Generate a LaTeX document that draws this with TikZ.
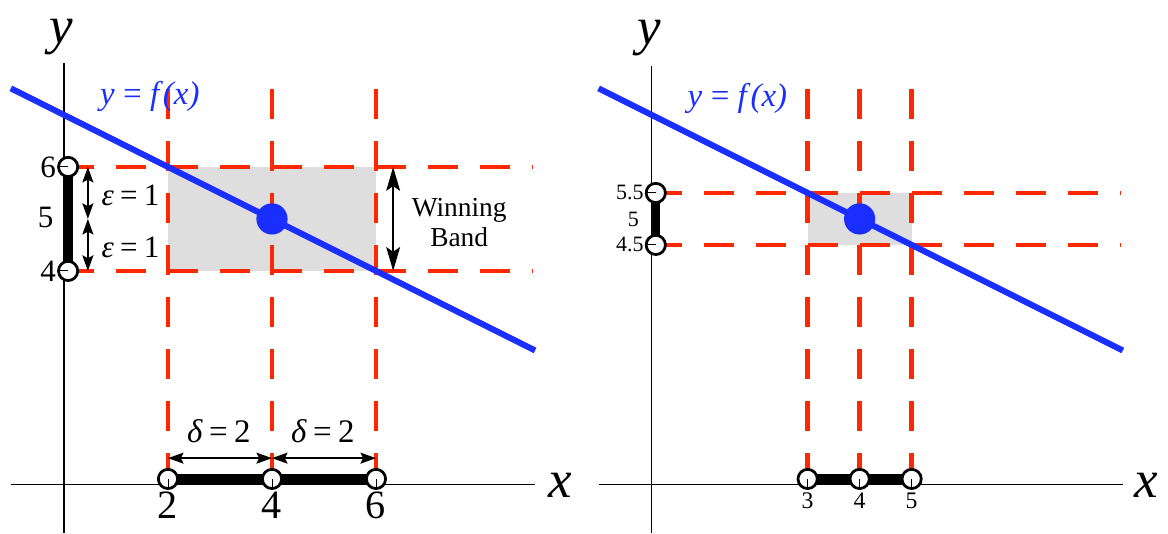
\documentclass[tikz,border=0pt]{standalone}
\usepackage{fontspec}
\setmainfont{Liberation Serif}
\newfontfamily\timesfont{Liberation Serif}
\usetikzlibrary{arrows.meta}
\usetikzlibrary{positioning}

\definecolor{fblue}{RGB}{26,46,255}
\definecolor{bandred}{RGB}{255,40,0}
\definecolor{bandgray}{RGB}{222,222,222}

\newcommand{\fsz}[1]{\timesfont\fontsize{#1}{#1}\selectfont}

\tikzset{
  reddash/.style={bandred, line width=2.4pt, dash pattern=on 0.58cm off 0.42cm},
  fline/.style={fblue, line width=3.3pt},
  axisline/.style={line width=0.7pt},
  ibar/.style={line width=5pt},
  endpt/.style={circle, draw, line width=1.5pt, fill=white, inner sep=0pt, minimum size=0.37cm},
  dblarrow/.style={{Stealth[length=8.5pt,width=6pt,inset=1.5pt]}-{Stealth[length=8.5pt,width=6pt,inset=1.5pt]}, line width=1pt},
  bigarrow/.style={{Stealth[length=13pt,width=7.5pt,inset=2.5pt]}-{Stealth[length=13pt,width=7.5pt,inset=2.5pt]}, line width=1.2pt},
  axislabel/.style={font=\fsz{29}\itshape},
  flabel/.style={fblue, font=\fsz{18}\itshape},
}

\begin{document}
\begin{tikzpicture}
    \def\xmin{-1.02}; % axis / graph left end
    \def\xmax{9.06}; % axis / graph right end
    \def\hmax{9.02}; % dashed horizontals right end
    \def\vtop{7.5}; % dashed verticals top
    \def\rshift{11.3}; % right panel offset

    \useasboundingbox (-1.23,-1.04) rectangle (21.23,9.21);

    % left panel %%%%%%%%%%%%%%%%%%%%%%%%%%%%%%%%%%%%%%%%%%%%%%%%%%%%%%%%%%%%%%%%%%%%%%%%%%%%%%%%%
    \begin{scope}
        \fill[bandgray] (2,4) rectangle (6,6);
        % axes
        \draw[axisline] (0,-1.04) -- (0,8.0);
        \draw[axisline] (\xmin,-0.1) -- (\xmax,-0.1);
        \node[axislabel] (ly) at (-0.06,8.5) {y};
        \node[axislabel] (lx) at (9.54,-0.12) {x};
        % band
        \foreach \x in {2,4,6}{
          \draw[reddash] (\x,\vtop) -- (\x,0);
        }
        \foreach \y in {4,6}{
          \draw[reddash] (0,\y) -- (\hmax,\y);
        }
        % graph
        \draw[fline] (\xmin,{7-\xmin/2}) -- (\xmax,{7-\xmax/2});
        \fill[fblue] (4,5) circle (0.3);
        \node[flabel] (lf) at (1.65,7.35) {y\hspace{0.2em}=\hspace{0.2em}f\/(x)};
        % intervals
        \draw[ibar] (2,0) -- (6,0);
        \draw[ibar] (0.08,4) -- (0.08,6);
        \foreach \x in {2,4,6}{
          \node[endpt] (lc\x) at (\x,0) {};
          \draw[line width=0.5pt] (lc\x.center) -- (lc\x.south);
          \node[below=0pt of lc\x, inner sep=1pt, font=\fsz{22}] {\x};
        }
        \foreach \y in {4,6}{
          \node[endpt] (le\y) at (0.08,\y) {};
          \draw[line width=0.5pt] (le\y.center) -- (le\y.west);
          \node[left=0pt of le\y, inner sep=0.5pt, font=\fsz{17}] {\y};
        }
        \node[font=\fsz{17}, anchor=east] (l5) at (-0.08,5.02) {5};
        % arrows
        \coordinate (ea) at (0.46,6);
        \coordinate (eb) at (0.46,5);
        \coordinate (ec) at (0.46,4);
        \draw[dblarrow] (ea) -- (eb);
        \draw[dblarrow] (eb) -- (ec);
        \node[font=\fsz{17}] (eps1) at (1.28,5.45) {\itshape ε\hspace{0.2em}\upshape=\hspace{0.2em}1};
        \node[font=\fsz{17}] (eps2) at (1.28,4.45) {\itshape ε\hspace{0.2em}\upshape=\hspace{0.2em}1};
        \coordinate (da) at (2,0.4);
        \coordinate (db) at (4,0.4);
        \coordinate (dc) at (6,0.4);
        \draw[dblarrow] (da) -- (db);
        \draw[dblarrow] (db) -- (dc);
        \node[font=\fsz{18}] (del1) at (2.98,0.92) {\itshape δ\hspace{0.2em}\upshape=\hspace{0.2em}2};
        \node[font=\fsz{18}] (del2) at (4.98,0.92) {\itshape δ\hspace{0.2em}\upshape=\hspace{0.2em}2};
        \coordinate (wa) at (6.33,6);
        \coordinate (wb) at (6.33,4);
        \draw[bigarrow] (wa) -- (wb);
        \node[font=\fsz{15}, align=center] (win) at (7.6,4.93) {Winning\\[1pt]Band};
    \end{scope}

    % right panel %%%%%%%%%%%%%%%%%%%%%%%%%%%%%%%%%%%%%%%%%%%%%%%%%%%%%%%%%%%%%%%%%%%%%%%%%%%%%%%%
    \begin{scope}[xshift=\rshift cm]
        \fill[bandgray] (3,4.5) rectangle (5,5.5);
        % axes
        \draw[axisline] (0,-1.04) -- (0,7.95);
        \draw[axisline] (\xmin,-0.1) -- (\xmax,-0.1);
        \node[axislabel] (ry) at (-0.04,8.48) {y};
        \node[axislabel] (rx) at (9.52,-0.13) {x};
        % band
        \foreach \x in {3,4,5}{
          \draw[reddash] (\x,\vtop) -- (\x,0);
        }
        \foreach \y in {4.5,5.5}{
          \draw[reddash] (0,\y) -- (\hmax,\y);
        }
        % graph
        \draw[fline] (\xmin,{7-\xmin/2}) -- (\xmax,{7-\xmax/2});
        \fill[fblue] (4,5) circle (0.3);
        \node[flabel] (rf) at (1.65,7.32) {y\hspace{0.2em}=\hspace{0.2em}f\/(x)};
        % intervals
        \draw[ibar] (3,0) -- (5,0);
        \draw[ibar] (0.08,4.5) -- (0.08,5.5);
        \foreach \x in {3,4,5}{
          \node[endpt] (rc\x) at (\x,0) {};
          \draw[line width=0.5pt] (rc\x.center) -- (rc\x.south);
          \node[below=0.5pt of rc\x, inner sep=1pt, font=\fsz{13}] {\x};
        }
        \foreach \y/\n in {4.5/a,5.5/b}{
          \node[endpt] (re\n) at (0.08,\y) {};
          \draw[line width=0.5pt] (re\n.center) -- (re\n.west);
          \node[left=0pt of re\n, inner sep=0.5pt, font=\fsz{12}] {\y};
        }
        \node[font=\fsz{12}, anchor=east] (r5) at (-0.12,5.0) {5};
    \end{scope}
\end{tikzpicture}
\end{document}
